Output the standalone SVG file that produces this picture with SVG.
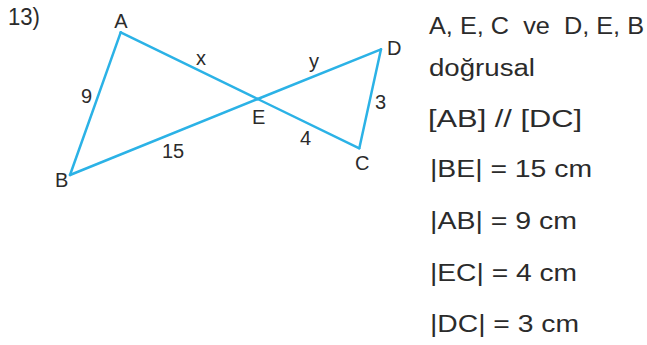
<svg xmlns="http://www.w3.org/2000/svg" width="647" height="345" viewBox="0 0 647 345">
<style>
.edge{stroke:#2bb2e6;stroke-width:2.5;fill:none;stroke-linecap:round;stroke-linejoin:round}
.lbl{font-family:"Liberation Sans",Arial,sans-serif;font-size:20px;fill:#2b2b2b}
.txt{font-family:"Liberation Sans",Arial,sans-serif;font-size:23px;fill:#2b2b2b}
</style>
<rect width="647" height="345" fill="#ffffff"/>
<text class="txt" x="8" y="25" textLength="32" lengthAdjust="spacingAndGlyphs">13)</text>
<g id="connectors">
<line id="AB" class="edge" x1="120.7" y1="32.3" x2="70" y2="175"/>
<line id="AE" class="edge" x1="120.7" y1="32.3" x2="257.7" y2="99"/>
<line id="EC" class="edge" x1="257.7" y1="99" x2="359.3" y2="148.3"/>
<line id="BE" class="edge" x1="70" y1="175" x2="257.7" y2="99"/>
<line id="ED" class="edge" x1="257.7" y1="99" x2="381" y2="49.3"/>
<line id="DC" class="edge" x1="381" y1="49.3" x2="359.3" y2="148.3"/>
</g>
<g id="edge-labels">
<text class="lbl" x="201" y="65" text-anchor="middle">x</text>
<text class="lbl" x="314" y="68" text-anchor="middle">y</text>
<text class="lbl" x="81" y="103">9</text>
<text class="lbl" x="375" y="109">3</text>
<text class="lbl" x="300" y="145">4</text>
<text class="lbl" x="162" y="158">15</text>
</g>
<g id="node-A"><text class="lbl" x="121" y="28" text-anchor="middle">A</text></g>
<g id="node-B"><text class="lbl" x="55" y="187">B</text></g>
<g id="node-C"><text class="lbl" x="355" y="170">C</text></g>
<g id="node-D"><text class="lbl" x="387" y="55">D</text></g>
<g id="node-E"><text class="lbl" x="252" y="124">E</text></g>
<g id="given">
<text class="txt" x="429" y="34" textLength="215" lengthAdjust="spacingAndGlyphs" xml:space="preserve">A, E, C  ve  D, E, B</text>
<text class="txt" x="429" y="76" textLength="106" lengthAdjust="spacingAndGlyphs">doğrusal</text>
<text class="txt" x="428" y="127" textLength="154" lengthAdjust="spacingAndGlyphs">[AB] // [DC]</text>
<text class="txt" x="430" y="177" textLength="162" lengthAdjust="spacingAndGlyphs">|BE| = 15 cm</text>
<text class="txt" x="430" y="229" textLength="147" lengthAdjust="spacingAndGlyphs">|AB| = 9 cm</text>
<text class="txt" x="430" y="281" textLength="147" lengthAdjust="spacingAndGlyphs">|EC| = 4 cm</text>
<text class="txt" x="430" y="332" textLength="149" lengthAdjust="spacingAndGlyphs">|DC| = 3 cm</text>
</g>
</svg>
